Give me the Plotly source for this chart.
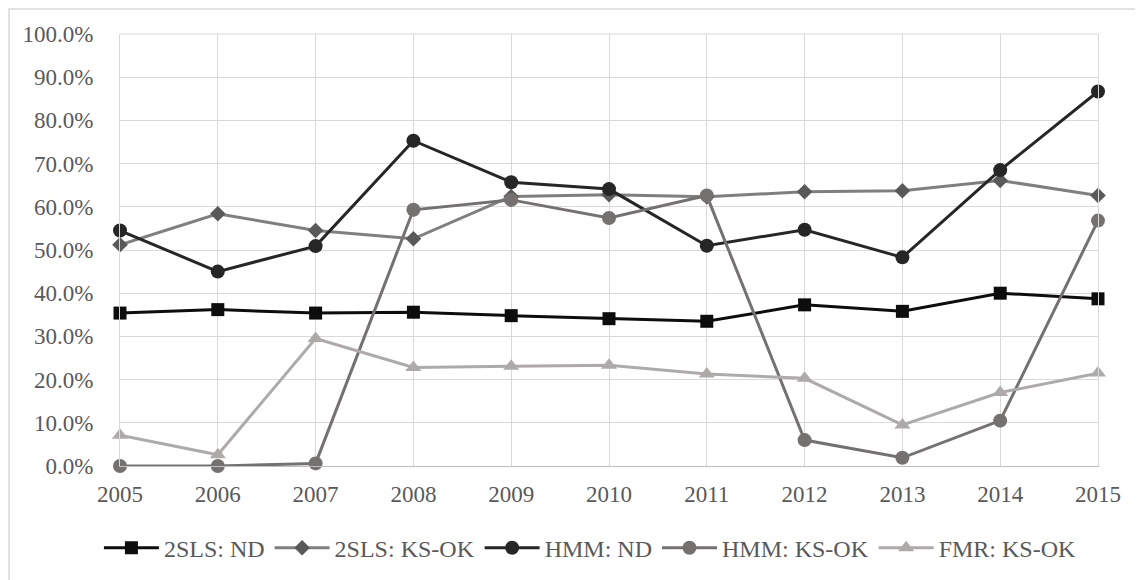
import plotly.graph_objects as go

years = [2005, 2006, 2007, 2008, 2009, 2010, 2011, 2012, 2013, 2014, 2015]
sls_nd = [35.4, 36.2, 35.4, 35.6, 34.8, 34.1, 33.5, 37.3, 35.8, 40.0, 38.7]
sls_ksok = [51.2, 58.4, 54.5, 52.6, 62.4, 62.8, 62.3, 63.5, 63.7, 66.1, 62.6]
hmm_nd = [54.5, 45.0, 50.9, 75.3, 65.7, 64.1, 51.0, 54.7, 48.3, 68.5, 86.7]
hmm_ksok = [0.0, 0.0, 0.6, 59.3, 61.6, 57.4, 62.6, 6.0, 1.9, 10.5, 56.8]
fmr_ksok = [7.1, 2.6, 29.5, 22.8, 23.1, 23.3, 21.3, 20.3, 9.5, 17.0, 21.5]

series = [
    ("2SLS: ND", sls_nd, "#0d0d0d", "#0d0d0d", "square", 13),
    ("2SLS: KS-OK", sls_ksok, "#7f7f7f", "#595959", "diamond", 12),
    ("HMM: ND", hmm_nd, "#262626", "#262626", "circle", 14),
    ("HMM: KS-OK", hmm_ksok, "#767171", "#767171", "circle", 14),
    ("FMR: KS-OK", fmr_ksok, "#aeaaaa", "#aeaaaa", "triangle-up", 14),
]

fig = go.Figure()
for name, vals, lc, mc, sym, sz in series:
    fig.add_trace(go.Scatter(
        x=years, y=[v / 100 for v in vals], name=name, mode="lines+markers",
        line=dict(color=lc, width=3),
        marker=dict(color=mc, symbol=sym, size=sz, line=dict(width=0)),
        cliponaxis=False,
    ))

font_family = "Liberation Serif"
tick_font = dict(family=font_family, size=23, color="#595959")
fig.update_layout(
    width=1143, height=580,
    margin=dict(l=112, r=53, t=26, b=122),
    paper_bgcolor="white", plot_bgcolor="white",
    font=dict(family=font_family, size=23, color="#595959"),
    showlegend=True,
    legend=dict(orientation="h", x=0.481, xanchor="center", y=-0.19, yanchor="middle",
                font=dict(family=font_family, size=24, color="#595959"),
                itemwidth=55, tracegroupgap=0),
    xaxis=dict(range=[2005, 2015], tickmode="array", tickvals=years,
               ticktext=[str(y) for y in years], tickfont=tick_font,
               showgrid=True, gridcolor="#d9d9d9", gridwidth=1,
               showline=True, linecolor="#bfbfbf", linewidth=1,
               ticks="", ticklabelstandoff=7, zeroline=False),
    yaxis=dict(range=[0, 1.0], dtick=0.1, tick0=0, tickformat=".1%",
               tickfont=tick_font,
               showgrid=True, gridcolor="#d9d9d9", gridwidth=1,
               showline=True, linecolor="#d9d9d9", linewidth=1, mirror=True,
               ticks="", ticklabelstandoff=21, zeroline=False),
    shapes=[dict(type="rect", xref="paper", yref="paper",
                 x0=-0.1135, x1=1.06, y0=-0.3, y1=1.058,
                 line=dict(color="#d9d9d9", width=1.5), fillcolor="rgba(0,0,0,0)",
                 layer="below")],
)
fig.add_shape(type="line", xref="paper", yref="paper", x0=0, x1=1, y0=1, y1=1,
              line=dict(color="#d9d9d9", width=1), layer="below")

fig.write_html("out.html")
